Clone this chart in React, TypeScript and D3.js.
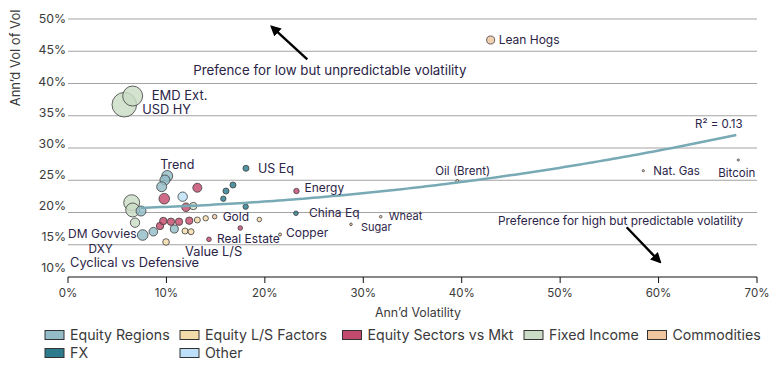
import React from 'react';
import * as d3 from 'd3';

// ---------- data ----------
const groups = ['Equity Regions', 'Equity L/S Factors', 'Equity Sectors vs Mkt', 'Fixed Income', 'Commodities', 'FX', 'Other'];
const groupColors = ['#93bcc6', '#f3dcaa', '#c44a6d', '#cbdcc6', '#efc6a0', '#2c7b8d', '#bde0f8'];

const names = ['USD HY', 'EMD Ext.', 'Lean Hogs', 'Oil (Brent)', 'Nat. Gas', 'Bitcoin', '', '', '', 'DM Govvies', 'DXY', '',
  'Trend', '', '', '', '', '', '', '', '', '', '', '', 'US Eq', 'Energy', 'China Eq', '', '', '', '', '', '',
  'Cyclical vs Defensive', '', 'Value L/S', '', '', 'Gold', '', '', 'Real Estate', 'Copper', 'Sugar', 'Wheat'];
const groupOf = [3, 3, 4, 4, 4, 6, 3, 3, 0, 3, 0, 0,
  0, 0, 0, 2, 2, 6, 2, 3, 5, 5, 5, 5, 5, 2, 5, 2, 2, 2, 2, 2, 0,
  1, 1, 1, 1, 1, 4, 1, 2, 2, 4, 4, 4];
const annVol = [5.72, 6.57, 42.94, 39.55, 58.45, 68.1, 6.47, 6.57, 7.42, 6.81, 7.59, 8.67,
  10.08, 9.85, 9.52, 9.78, 13.14, 11.65, 11.99, 12.73, 16.76, 16.05, 15.78, 18.05, 18.08, 23.21, 23.16, 9.35, 9.68, 10.46, 11.28, 12.32, 10.8,
  9.96, 11.89, 12.5, 13.14, 13.99, 14.9, 19.44, 17.5, 14.32, 21.54, 28.75, 31.77];
const volOfVol = [36.71, 38.06, 46.74, 24.88, 26.48, 28.14, 21.52, 20.39, 20.23, 18.42, 16.51, 17.02,
  25.66, 25.04, 24.0, 22.14, 23.84, 22.45, 20.81, 21.0, 24.26, 23.33, 22.14, 20.9, 26.85, 23.33, 19.88, 17.91, 18.68, 18.57, 18.57, 18.73, 17.44,
  15.43, 17.13, 17.02, 18.84, 19.1, 19.35, 18.91, 17.6, 15.84, 16.59, 18.17, 19.35];
const bubbleSize = [100, 66, 10.6, 1.6, 0.8, 0.8, 42, 32, 16.5, 14.6, 18.6, 12.2,
  20, 16.5, 16.5, 18.6, 13.4, 14.6, 12.2, 9, 6, 6, 4.8, 4.8, 6, 4.8, 3.5, 9, 9, 9, 9, 9, 10.6,
  7.2, 6, 6, 6, 4.8, 3.5, 3.5, 3.5, 3.5, 1.5, 1.1, 1.1];

const xTicks = [0, 10, 20, 30, 40, 50, 60, 70];
const yTicks = [10, 15, 20, 25, 30, 35, 40, 45, 50];
// fitted polynomial trendline (order 2): y = c0 + c1 x + c2 x^2
const trendCoef = [20.499, 0.0144, 0.0022885];
const trendRange = [7.4, 68.1];
const rSquaredText = 'R² = 0.13';

const noteLow = 'Prefence for low but unpredictable volatility';
const noteHigh = 'Preference for high but predictable volatility';

// ---------- layout (label offsets in px relative to the point) ----------
const labelLayout: Record<string, { dx: number; dy: number; fs: number; anchor?: string }> = {
  'USD HY': { dx: 18, dy: 5, fs: 12.8 },
  'EMD Ext.': { dx: 19, dy: -1, fs: 13 },
  'Lean Hogs': { dx: 8, dy: 0, fs: 12 },
  'Oil (Brent)': { dx: -22, dy: -10, fs: 11.5 },
  'Nat. Gas': { dx: 10, dy: 0, fs: 11.5 },
  'Bitcoin': { dx: -20, dy: 13, fs: 11.5 },
  'DM Govvies': { dx: -67, dy: 11.3, fs: 12 },
  'DXY': { dx: -42, dy: 13.6, fs: 11.8, anchor: 'middle' },
  'Trend': { dx: -7, dy: -11, fs: 12.5 },
  'US Eq': { dx: 12, dy: 0, fs: 12.5 },
  'Energy': { dx: 8, dy: -3, fs: 12 },
  'China Eq': { dx: 13, dy: 0, fs: 12 },
  'Cyclical vs Defensive': { dx: -96, dy: 21, fs: 12.8 },
  'Value L/S': { dx: -6, dy: 20, fs: 12.8 },
  'Gold': { dx: 8, dy: 0, fs: 12 },
  'Real Estate': { dx: 8, dy: -0.6, fs: 12 },
  'Copper': { dx: 6, dy: -2, fs: 12 },
  'Sugar': { dx: 10, dy: 3, fs: 11 },
  'Wheat': { dx: 8, dy: -0.7, fs: 11 },
};

const FONT = 'Inter, "Open Sans", sans-serif';
const LABEL_COLOR = '#2b2447';
const AXIS_COLOR = '#3a3a3a';

export default function App() {
  const W = 770, H = 376;
  const x = d3.scaleLinear().domain([0, 70]).range([68, 757]);
  const y = d3.scaleLinear().domain([10, 50]).range([277, 19]);
  const yLabel = d3.scaleLinear().domain([10, 50]).range([268, 19]);
  const r = d3.scaleSqrt().domain([0, 100]).range([0, 12.3]);

  const points = names.map((n, i) => ({ name: n, g: groupOf[i], vx: annVol[i], vy: volOfVol[i], s: bubbleSize[i] }));
  const drawOrder = [...points].sort((a, b) => b.s - a.s);

  const trendPts = d3.range(trendRange[0], trendRange[1] + 0.001, 0.5).map(v => [v, trendCoef[0] + trendCoef[1] * v + trendCoef[2] * v * v]);
  const trendPath = d3.line<number[]>().x(d => x(d[0])).y(d => y(d[1]))(trendPts) || '';

  const legendRow1X = [45, 180, 342.5, 524, 647.5];
  const legendRow2X = [45, 180];
  const legendItems = groups.map((g, i) => ({
    g, c: groupColors[i],
    lx: i < 5 ? legendRow1X[i] : legendRow2X[i - 5],
    ly: i < 5 ? 335 : 353,
  }));

  return (
    <svg width={W} height={H} style={{ position: 'absolute', left: 0, top: 0, background: '#fff' }} fontFamily={FONT}>
      <defs>
        <marker id="arrow" viewBox="0 0 10 10" refX="8" refY="5" markerWidth="4.5" markerHeight="4.5" orient="auto-start-reverse">
          <path d="M0,0 L10,5 L0,10 z" fill="#000" />
        </marker>
      </defs>
      {/* gridlines */}
      {yTicks.filter(t => t > 10).map(t => (
        <line key={t} x1={x(0)} x2={x(70)} y1={y(t)} y2={y(t)} stroke="#a3a3a3" strokeWidth={1} />
      ))}
      {/* y tick labels */}
      {yTicks.map(t => (
        <text key={t} x={66} y={yLabel(t)} dy="0.35em" textAnchor="end" fontSize={12.3} fill={AXIS_COLOR}>{t}%</text>
      ))}
      {/* x axis */}
      <line x1={x(0)} x2={x(70)} y1={y(10)} y2={y(10)} stroke="#111" strokeWidth={1} />
      {xTicks.map(t => (
        <g key={t}>
          <line x1={x(t)} x2={x(t)} y1={y(10)} y2={y(10) + 6} stroke="#111" />
          <text x={x(t)} y={293} dy="0.35em" textAnchor="middle" fontSize={11.5} fill={AXIS_COLOR}>{t}%</text>
        </g>
      ))}
      <text x={418} y={313} dy="0.35em" textAnchor="middle" fontSize={12.4} fill={AXIS_COLOR}>Ann’d Volatility</text>
      <text transform={`translate(15,58) rotate(-90)`} dy="0.35em" textAnchor="middle" fontSize={13} fill={AXIS_COLOR}>Ann’d Vol of Vol</text>

      {/* bubbles */}
      {drawOrder.map((p, i) => (
        <circle key={i} cx={x(p.vx)} cy={y(p.vy)} r={r(p.s)} fill={groupColors[p.g]} fillOpacity={0.82}
          stroke="#3d3d3d" strokeWidth={0.8} />
      ))}
      {/* trendline */}
      <path d={trendPath} fill="none" stroke="#78aab6" strokeWidth={2.5} />
      <text x={x(68.54)} y={y(33.72)} dy="0.35em" textAnchor="end" fontSize={11.5} fill={LABEL_COLOR}>{rSquaredText}</text>

      {/* point labels */}
      {points.filter(p => p.name && labelLayout[p.name]).map(p => {
        const L = labelLayout[p.name];
        return (
          <text key={p.name} x={x(p.vx) + L.dx} y={y(p.vy) + L.dy} dy="0.35em" textAnchor={L.anchor || 'start'}
            fontSize={L.fs} fill={LABEL_COLOR}>{p.name}</text>
        );
      })}

      {/* annotations */}
      <line x1={x(24.31)} y1={y(43.75)} x2={x(20.69)} y2={y(48.81)} stroke="#000" strokeWidth={2.4} markerEnd="url(#arrow)" />
      <text x={x(12.72)} y={y(42.09)} dy="0.35em" fontSize={13.3} fill={LABEL_COLOR}>{noteLow}</text>
      <line x1={x(56.76)} y1={y(17.71)} x2={x(60.14)} y2={y(12.33)} stroke="#000" strokeWidth={2.4} markerEnd="url(#arrow)" />
      <text x={x(43.69)} y={y(18.68)} dy="0.35em" fontSize={11.85} fill={LABEL_COLOR}>{noteHigh}</text>

      {/* legend */}
      {legendItems.map(it => (
        <g key={it.g}>
          <rect x={it.lx} y={it.ly - 4.5} width={19} height={9} fill={it.c} stroke="#333" strokeWidth={1} />
          <text x={it.lx + 25} y={it.ly} dy="0.35em" fontSize={14.2} fill={AXIS_COLOR}>{it.g}</text>
        </g>
      ))}
    </svg>
  );
}
